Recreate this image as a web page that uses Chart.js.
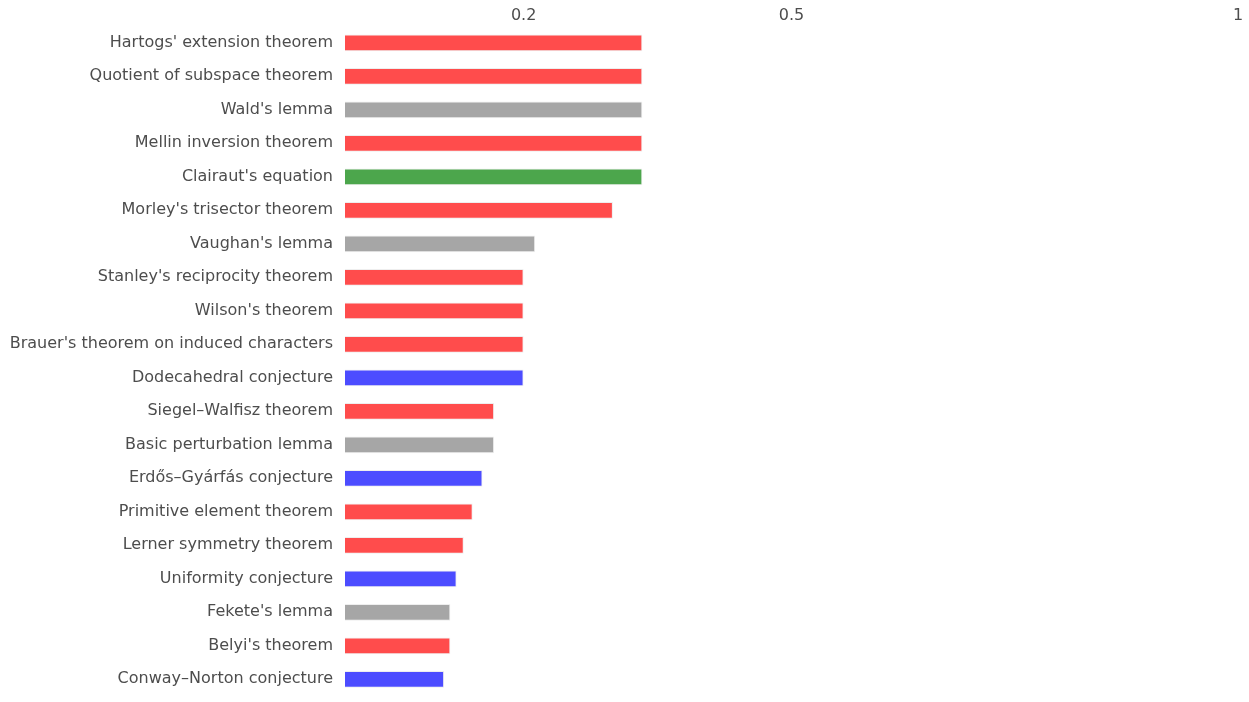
<!doctype html>
<html lang="en">
  <head>
    <meta charset="UTF-8" />
    <title>Theorems</title>
    <script src="https://cdn.jsdelivr.net/npm/chart.js"></script>
    <style>
      html, body { margin: 0; padding: 0; background: #fff; overflow: hidden; }
      canvas { display: block; }
    </style>
  </head>
  <body>
    <canvas id="barChart" width="1249" height="702"></canvas>

    <script>
      // Data
      const labels = [
        "Hartogs' extension theorem",
        "Quotient of subspace theorem",
        "Wald's lemma",
        "Mellin inversion theorem",
        "Clairaut's equation",
        "Morley's trisector theorem",
        "Vaughan's lemma",
        "Stanley's reciprocity theorem",
        "Wilson's theorem",
        "Brauer's theorem on induced characters",
        "Dodecahedral conjecture",
        "Siegel–Walfisz theorem",
        "Basic perturbation lemma",
        "Erdős–Gyárfás conjecture",
        "Primitive element theorem",
        "Lerner symmetry theorem",
        "Uniformity conjecture",
        "Fekete's lemma",
        "Belyi's theorem",
        "Conway–Norton conjecture",
      ];
      const values = [
        0.333, 0.333, 0.333, 0.333, 0.333, 0.3, 0.213, 0.2, 0.2, 0.2, 0.2,
        0.167, 0.167, 0.154, 0.143, 0.133, 0.125, 0.118, 0.118, 0.111,
      ];
      const groups = [
        "red", "red", "grey", "red", "green", "red", "grey", "red", "red", "red",
        "blue", "red", "grey", "blue", "red", "red", "blue", "grey", "red", "blue",
      ];
      const tickValues = [0.2, 0.5, 1];

      const groupColors = {
        red: "#ff4c4c",
        grey: "#a6a6a6",
        green: "#4ca64c",
        blue: "#4c4cff",
      };

      const ctx = document.getElementById("barChart").getContext("2d");
      const chart = new Chart(ctx, {
        type: "bar",
        data: {
          labels: labels,
          datasets: [
            {
              data: values,
              backgroundColor: groups.map((g) => groupColors[g]),
              borderColor: "#eeeeee",
              borderWidth: 1,
              barPercentage: 0.5,
              categoryPercentage: 1,
            },
          ],
        },
        options: {
          indexAxis: "y",
          responsive: false,
          animation: false,
          layout: { padding: { top: 1, right: 11, bottom: 6, left: 0 } },
          plugins: { legend: { display: false }, tooltip: { enabled: false } },
          scales: {
            x: {
              position: "top",
              min: 0,
              max: 1,
              grid: { display: false, drawTicks: false },
              border: { display: false },
              afterBuildTicks: (axis) => {
                axis.ticks = tickValues.map((v) => ({ value: v }));
              },
              afterFit: (axis) => {
                axis.height = 25;
                axis.paddingLeft = 0;
                axis.paddingRight = 0;
              },
              ticks: {
                color: "#4d4d4d",
                font: { family: "'DejaVu Sans'", size: 16 },
                padding: 1,
                maxRotation: 0,
                callback: (v) => String(v),
              },
            },
            y: {
              grid: { display: false, drawTicks: false },
              border: { display: false },
              afterFit: (axis) => {
                axis.width = 345;
                axis.paddingTop = 0;
                axis.paddingBottom = 0;
              },
              ticks: {
                color: "#4d4d4d",
                font: { family: "'DejaVu Sans'", size: 16 },
                padding: 12,
                autoSkip: false,
              },
            },
          },
        },
      });
    </script>
  </body>
</html>
